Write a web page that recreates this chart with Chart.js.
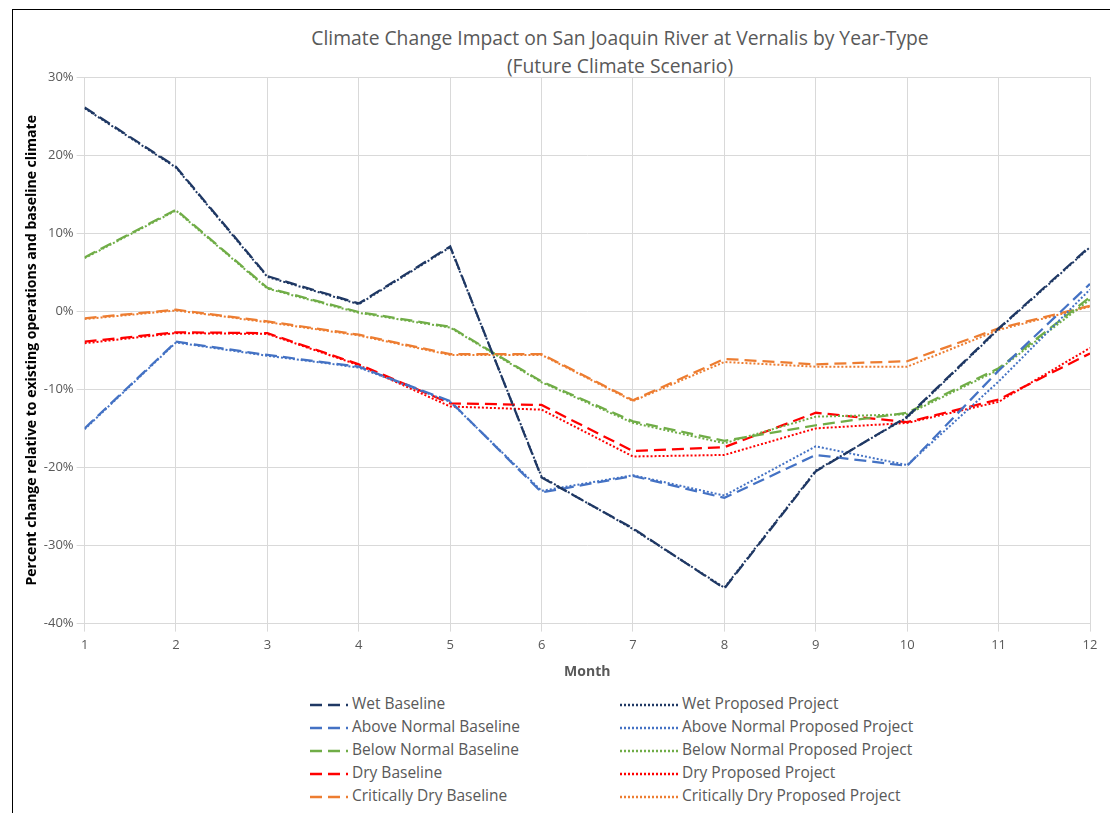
<!DOCTYPE html>
<html>
<head>
<meta charset="utf-8">
<script src="https://cdn.jsdelivr.net/npm/chart.js@4"></script>
<style>
  body { margin: 0; background: #fff; font-family: "Open Sans", sans-serif; }
  #frame { position: absolute; left: 12px; top: 9px; width: 1100px; height: 806px; border: 1px solid #000; border-right: none; border-bottom: none; box-sizing: border-box; }
  #title { position: absolute; left: 290px; width: 660px; top: 24px; text-align: center; font-size: 19.3px; line-height: 28px; color: #595959; }
  #wrap { position: absolute; left: 13px; top: 10px; width: 1097px; height: 674px; }
  #legend { position: absolute; left: 310px; top: 692px; width: 700px; font-size: 15.5px; color: #595959; }
  .item { position: absolute; height: 22px; line-height: 22px; white-space: nowrap; }
  .item svg { vertical-align: middle; margin-right: 4px; }
</style>
</head>
<body>
<div id="frame"></div>
<div id="title">Climate Change Impact on San Joaquin River at Vernalis by Year-Type<br>(Future Climate Scenario)</div>
<div id="wrap"><canvas id="chart"></canvas></div>
<div id="legend"></div>
<script>
const months = [1, 2, 3, 4, 5, 6, 7, 8, 9, 10, 11, 12];

const wetBaseline = [26.1, 18.5, 4.5, 1.0, 8.3, -21.3, -27.8, -35.5, -20.5, -13.5, -2.2, 8.3];
const wetProposed = [26.0, 18.4, 4.4, 0.9, 8.2, -21.2, -27.9, -35.4, -20.4, -13.6, -2.3, 8.2];
const aboveBaseline = [-15.0, -3.9, -5.6, -7.1, -11.5, -23.2, -21.1, -23.9, -18.4, -19.8, -7.6, 3.5];
const aboveProposed = [-15.1, -4.0, -5.7, -7.2, -11.6, -23.0, -21.0, -23.6, -17.3, -19.7, -9.0, 2.8];
const belowBaseline = [6.9, 13.0, 3.0, -0.1, -2.0, -9.0, -14.1, -16.6, -14.6, -13.0, -7.3, 1.8];
const belowProposed = [6.8, 12.9, 2.9, -0.2, -2.1, -9.1, -14.3, -16.9, -13.5, -13.2, -7.5, 1.5];
const dryBaseline = [-3.9, -2.7, -2.8, -6.8, -11.8, -12.0, -17.9, -17.4, -13.0, -14.2, -11.3, -5.4];
const dryProposed = [-4.1, -2.8, -2.9, -6.9, -12.2, -12.6, -18.6, -18.4, -15.0, -14.3, -11.6, -4.7];
const critBaseline = [-0.9, 0.2, -1.3, -3.0, -5.5, -5.5, -11.4, -6.1, -6.8, -6.4, -2.2, 0.7];
const critProposed = [-1.0, 0.1, -1.4, -3.1, -5.6, -5.6, -11.5, -6.5, -7.1, -7.1, -2.4, 0.6];

const yTicks = [30, 20, 10, 0, -10, -20, -30, -40];

const colors = { wet: '#1f3864', above: '#4472c4', below: '#70ad47', dry: '#ff0000', crit: '#ed7d31' };

function series(label, data, color, baseline) {
    return {
        label: label,
        data: data,
        borderColor: color,
        backgroundColor: color,
        borderWidth: baseline ? 2.25 : 2,
        borderDash: baseline ? [12, 6] : [2, 2],
        pointRadius: 0,
        tension: 0,
        fill: false
    };
}

const datasets = [
    series('Wet Baseline', wetBaseline, colors.wet, true),
    series('Wet Proposed Project', wetProposed, colors.wet, false),
    series('Above Normal Baseline', aboveBaseline, colors.above, true),
    series('Above Normal Proposed Project', aboveProposed, colors.above, false),
    series('Below Normal Baseline', belowBaseline, colors.below, true),
    series('Below Normal Proposed Project', belowProposed, colors.below, false),
    series('Dry Baseline', dryBaseline, colors.dry, true),
    series('Dry Proposed Project', dryProposed, colors.dry, false),
    series('Critically Dry Baseline', critBaseline, colors.crit, true),
    series('Critically Dry Proposed Project', critProposed, colors.crit, false)
];

const font = { family: '"Open Sans", sans-serif' };

new Chart(document.getElementById('chart'), {
    type: 'line',
    data: { labels: months, datasets: datasets },
    options: {
        responsive: true,
        maintainAspectRatio: false,
        animation: false,
        layout: { padding: { left: 11, right: 20, top: 67, bottom: 0 } },
        scales: {
            x: {
                type: 'linear',
                min: 1, max: 12,
                ticks: { stepSize: 1, color: '#595959', font: { ...font, size: 13 }, padding: 6 },
                grid: { color: '#d9d9d9' },
                border: { color: '#d9d9d9' },
                title: { display: true, text: 'Month', color: '#595959', font: { ...font, size: 14, weight: 'bold' } }
            },
            y: {
                min: -40, max: 30,
                afterBuildTicks: axis => { axis.ticks = yTicks.map(v => ({ value: v })); },
                ticks: { color: '#595959', font: { ...font, size: 13 }, callback: v => v + '%' },
                grid: { color: '#d9d9d9' },
                border: { display: false },
                title: { display: true, text: 'Percent change relative to existing operations and baseline climate', color: '#000', font: { ...font, size: 14, weight: 'bold' }, padding: 0 }
            }
        },
        plugins: {
            legend: { display: false },
            tooltip: { enabled: false }
        }
    }
});

// legend in two columns: baselines left, proposed right
const legend = document.getElementById('legend');
datasets.forEach((ds, i) => {
    const col = i % 2, row = Math.floor(i / 2);
    const el = document.createElement('div');
    el.className = 'item';
    el.style.left = (col ? 310 : 0) + 'px';
    el.style.top = (row * 23) + 'px';
    const w = col ? 58 : 38;
    const dash = col ? '2,2' : '12,6';
    el.innerHTML = '<svg width="' + w + '" height="6"><line x1="0" y1="3" x2="' + w + '" y2="3" stroke="' + ds.borderColor +
        '" stroke-width="2.5" stroke-dasharray="' + dash + '"/></svg>' + ds.label;
    legend.appendChild(el);
});
</script>
</body>
</html>
